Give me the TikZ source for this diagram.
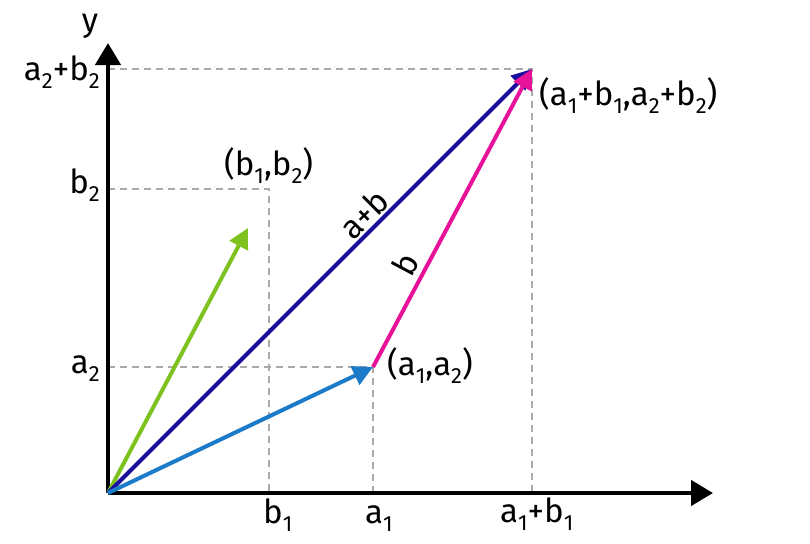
\documentclass[tikz,border=0pt]{standalone}
\usepackage{fontspec}
\setmainfont{Fira Sans}
\usetikzlibrary{arrows.meta}
\definecolor{vgreen}{HTML}{7DC21E}
\definecolor{vnavy}{HTML}{1A0F9C}
\definecolor{vblue}{HTML}{1B7BC8}
\definecolor{vmag}{HTML}{E8129A}
\definecolor{dashgray}{HTML}{AAAAAA}
\newcommand\lo[1]{\raisebox{-8pt}{\fontsize{22}{22}\selectfont #1}}
\tikzset{
  axisline/.style={line width=4.5pt, -{Triangle[length=22pt,width=25pt]}},
  vec/.style={line width=4pt, -{Triangle[length=20pt,width=20pt]}},
  guide/.style={dashgray, line width=1.3pt, dash pattern=on 7pt off 5pt},
  lbl/.style={inner sep=0pt, font=\fontsize{33}{33}\selectfont},
}
\begin{document}
\begin{tikzpicture}[x=1pt,y=-1pt]
\useasboundingbox (0,0) rectangle (810,543);
% key points
\coordinate (O) at (108,493);
\coordinate (Ytop) at (108,43);
\coordinate (Xtip) at (713,493);
\coordinate (A) at (373,367);
\coordinate (S) at (532,69);
\coordinate (B) at (248,228);
\coordinate (Bp) at (269,189);
\coordinate (yS) at (108,69);
\coordinate (xS) at (532,493);
\coordinate (yB) at (108,189);
\coordinate (xB) at (269,493);
\coordinate (yA) at (108,367);
\coordinate (xA) at (373,493);
% dashed guides
\draw[guide] (yS) -- (S) -- (xS);
\draw[guide] (yB) -- (Bp) -- (xB);
\draw[guide] (yA) -- (A) -- (xA);
% axes
\draw[axisline] (O) -- (Ytop);
\draw[axisline] (O) -- (Xtip);
% vectors
\draw[vec, vgreen] (O) -- (B);
\draw[vec, vnavy] (O) -- (S);
\draw[vec, vmag] (A) -- (S);
\draw[vec, vblue] (O) -- (A);
% labels
\node[lbl, anchor=base] (ylab) at (90,32) {y};
\node[lbl, anchor=base east] (lab1) at (100,80) {a\lo{2}+b\lo{2}};
\node[lbl, anchor=base east] (lab2) at (100,193) {b\lo{2}};
\node[lbl, anchor=base east] (lab3) at (100,373) {a\lo{2}};
\node[lbl, anchor=base west] (lab4) at (224,175) {(b\lo{1},b\lo{2})};
\node[lbl, anchor=base west] (lab5) at (387,375) {(a\lo{1},a\lo{2})};
\node[lbl, anchor=base west] (lab6) at (539,105) {(a\lo{1}+b\lo{1},a\lo{2}+b\lo{2})};
\node[lbl, anchor=base west] (lab7) at (263,523) {b\lo{1}};
\node[lbl, anchor=base west] (lab8) at (365,523) {a\lo{1}};
\node[lbl, anchor=base west] (lab9) at (500,522) {a\lo{1}+b\lo{1}};
\node[lbl, rotate=45] (labab) at (364,214) {a+b};
\node[lbl, rotate=62] (labb) at (405,264) {b};
\end{tikzpicture}
\end{document}
